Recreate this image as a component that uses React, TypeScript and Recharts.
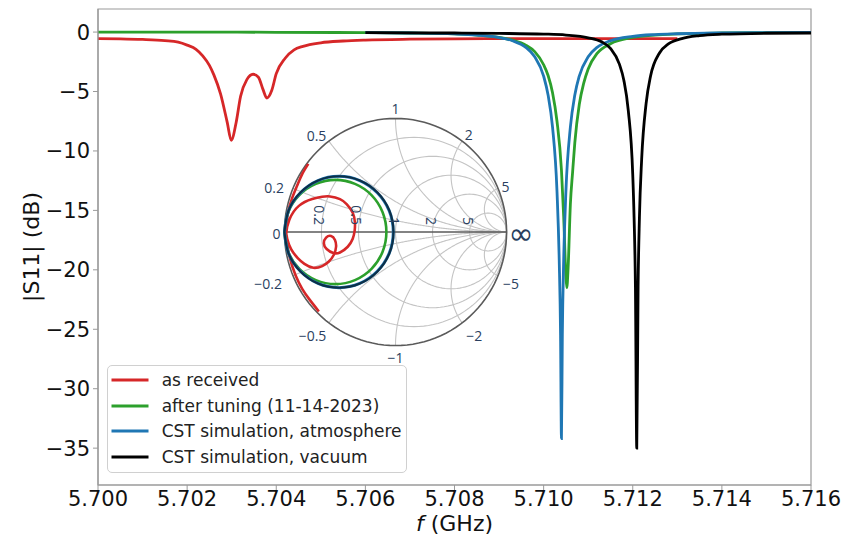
import React from 'react';
import {
  LineChart,
  Line,
  XAxis,
  YAxis,
  ReferenceArea,
  ReferenceDot,
  ReferenceLine,
  Legend,
  Label,
} from 'recharts';

// ---------------- main |S11| chart data ----------------
const xTicks = [5.7, 5.702, 5.704, 5.706, 5.708, 5.71, 5.712, 5.714, 5.716];
const yTicks = [0, -5, -10, -15, -20, -25, -30, -35];

const redFreq = [5.7, 5.7005, 5.701, 5.7015, 5.7018, 5.702, 5.7022, 5.70235, 5.7025, 5.7026, 5.70275, 5.7029, 5.70299, 5.7031, 5.7032, 5.70334, 5.70348, 5.7036, 5.7037, 5.70379, 5.7039, 5.704, 5.7042, 5.7044, 5.7046, 5.705, 5.7055, 5.706, 5.707, 5.708, 5.71, 5.713];
const redDb = [-0.55, -0.57, -0.62, -0.72, -0.85, -1.1, -1.45, -2.0, -2.8, -3.6, -5.2, -7.6, -9.1, -7.6, -5.4, -4.0, -3.55, -3.8, -4.8, -5.55, -4.9, -3.5, -2.2, -1.5, -1.2, -0.9, -0.75, -0.67, -0.6, -0.57, -0.55, -0.55];

const greenFreq = [5.7, 5.702, 5.704, 5.706, 5.707, 5.708, 5.7085, 5.709, 5.7093, 5.7096, 5.7098, 5.71, 5.7101, 5.7102, 5.7103, 5.7104, 5.71045, 5.7105, 5.71052, 5.71055, 5.7106, 5.71065, 5.7107, 5.7108, 5.7109, 5.711, 5.7112, 5.7115, 5.712, 5.7125, 5.713, 5.714, 5.715, 5.716];
const greenDb = [0.0, 0.0, -0.02, -0.05, -0.08, -0.15, -0.25, -0.44, -0.68, -1.1, -1.65, -2.75, -3.65, -5.1, -7.5, -11.6, -15.5, -20.5, -21.5, -19.8, -14.5, -11.8, -9.3, -6.1, -4.3, -3.1, -1.8, -0.98, -0.45, -0.25, -0.16, -0.08, -0.05, -0.02];

const blueFreq = [5.706, 5.707, 5.708, 5.7085, 5.709, 5.7093, 5.7096, 5.7098, 5.71, 5.7101, 5.7102, 5.7103, 5.71035, 5.71038, 5.7104, 5.71042, 5.71045, 5.7105, 5.7106, 5.7107, 5.7108, 5.711, 5.7112, 5.7115, 5.712, 5.7125, 5.713, 5.714, 5.715, 5.716];
const blueDb = [-0.05, -0.08, -0.16, -0.26, -0.46, -0.73, -1.29, -2.08, -3.7, -5.3, -8.0, -13.4, -19.2, -25.5, -34.2, -25.5, -19.2, -13.4, -8.0, -5.3, -3.7, -2.08, -1.29, -0.73, -0.36, -0.21, -0.14, -0.07, -0.04, -0.02];

const blackFreq = [5.706, 5.707, 5.708, 5.709, 5.71, 5.7105, 5.711, 5.7113, 5.7115, 5.7117, 5.7118, 5.7119, 5.712, 5.71203, 5.71206, 5.71209, 5.71212, 5.71215, 5.7122, 5.7123, 5.7124, 5.7126, 5.7128, 5.7131, 5.7135, 5.714, 5.715, 5.716];
const blackDb = [-0.05, -0.06, -0.08, -0.11, -0.17, -0.25, -0.48, -0.82, -1.37, -2.7, -4.05, -6.6, -12.0, -15.6, -21.4, -35.0, -21.4, -15.6, -10.7, -6.0, -3.7, -1.76, -1.0, -0.55, -0.3, -0.18, -0.1, -0.08];

const seriesNames = ['as received', 'after tuning (11-14-2023)', 'CST simulation, atmosphere', 'CST simulation, vacuum'];

// ---------------- Smith chart (reflection coefficient) data ----------------
const redSmithRe = [-0.69, -0.77, -0.84, -0.9, -0.945, -0.975, -0.985, -0.955, -0.87, -0.75, -0.66, -0.59, -0.5, -0.44, -0.385, -0.365, -0.368, -0.385, -0.43, -0.5, -0.56, -0.62, -0.645, -0.625, -0.58, -0.545, -0.535, -0.555, -0.6, -0.66, -0.74, -0.82, -0.88, -0.94, -0.975, -0.985, -0.97, -0.93, -0.885, -0.84, -0.785];
const redSmithIm = [-0.7, -0.6, -0.5, -0.38, -0.25, -0.12, -0.02, 0.11, 0.23, 0.29, 0.31, 0.313, 0.29, 0.245, 0.17, 0.08, 0.01, -0.06, -0.13, -0.18, -0.185, -0.15, -0.1, -0.05, -0.035, -0.07, -0.13, -0.2, -0.26, -0.3, -0.315, -0.28, -0.23, -0.15, -0.06, 0.03, 0.16, 0.3, 0.41, 0.51, 0.6];

const greenSmithRe = [-1.0, -0.965, -0.866, -0.717, -0.541, -0.365, -0.216, -0.117, -0.082, -0.117, -0.216, -0.365, -0.541, -0.717, -0.866, -0.965, -1.0];
const greenSmithIm = [0, 0.176, 0.325, 0.424, 0.459, 0.424, 0.325, 0.176, 0, -0.176, -0.325, -0.424, -0.459, -0.424, -0.325, -0.176, 0];

const blueSmithRe = [-1.0, -0.963, -0.856, -0.698, -0.51, -0.322, -0.164, -0.057, -0.02, -0.057, -0.164, -0.322, -0.51, -0.698, -0.856, -0.963, -1.0];
const blueSmithIm = [0, 0.188, 0.346, 0.453, 0.49, 0.453, 0.346, 0.188, 0, -0.188, -0.346, -0.453, -0.49, -0.453, -0.346, -0.188, 0];

const blackSmithRe = [-1.0, -0.963, -0.856, -0.697, -0.509, -0.321, -0.162, -0.055, -0.018, -0.055, -0.162, -0.321, -0.509, -0.697, -0.856, -0.963, -1.0];
const blackSmithIm = [0, 0.188, 0.347, 0.454, 0.491, 0.454, 0.347, 0.188, 0, -0.188, -0.347, -0.454, -0.491, -0.454, -0.347, -0.188, 0];

// Smith grid tick values
const smithResistance = [0.2, 0.5, 1, 2, 5];
const smithReactance = [0.2, 0.5, 1, 2, 5];
const smithImagLabels = ['0.2', '0.5', '1', '2', '5', '\u22120.2', '\u22120.5', '\u22121', '\u22122', '\u22125'];

// ---------------- styles ----------------
const RED = '#d62728';
const GREEN = '#2ca02c';
const BLUE = '#1f77b4';
const BLACK = '#000000';
const SPINE = '#9a9a9a';
const PLOTLY_TEXT = '#2a3f5f';
const seriesColors = [RED, GREEN, BLUE, BLACK];

const toRows = (fs: number[], ds: number[]) => fs.map((f, i) => ({ f, db: ds[i] }));
const toPts = (re: number[], im: number[]) => re.map((x, i) => ({ x, y: im[i] }));

const redRows = toRows(redFreq, redDb);
const greenRows = toRows(greenFreq, greenDb);
const blueRows = toRows(blueFreq, blueDb);
const blackRows = toRows(blackFreq, blackDb);

// Smith grid geometry (constant-resistance circles and constant-reactance arcs)
const zToGamma = (r: number, x: number) => {
  const d = (r + 1) * (r + 1) + x * x;
  return { x: (r * r + x * x - 1) / d, y: (2 * x) / d };
};
const resistanceCircle = (r: number) => {
  const c = r / (1 + r);
  const rad = 1 / (1 + r);
  const pts: { x: number; y: number }[] = [];
  for (let t = 0; t <= 360; t += 3) {
    const a = (t * Math.PI) / 180;
    pts.push({ x: c + rad * Math.cos(a), y: rad * Math.sin(a) });
  }
  return pts;
};
const reactanceArc = (x: number) => {
  const pts: { x: number; y: number }[] = [];
  for (let t = 0; t <= 89.5; t += 0.5) {
    pts.push(zToGamma(Math.tan((t * Math.PI) / 180), x));
  }
  pts.push({ x: 1, y: 0 });
  return pts;
};
const gridLines = [
  ...smithResistance.map(resistanceCircle),
  ...smithReactance.map((x) => reactanceArc(x)),
  ...smithReactance.map((x) => reactanceArc(-x)),
];
const outerCircle = resistanceCircle(0);

// label offsets (style): anchor, dx, dy relative to the boundary point
const imagLabelStyle: Record<string, { anchor: 'start' | 'middle' | 'end'; dx: number; dy: number }> = {
  '0.2': { anchor: 'end', dx: -9, dy: -1 },
  '0.5': { anchor: 'end', dx: -2.5, dy: -5.5 },
  '1': { anchor: 'middle', dx: 0, dy: -10 },
  '2': { anchor: 'start', dx: 2.5, dy: -7 },
  '5': { anchor: 'start', dx: 3.5, dy: -2 },
  '\u22120.2': { anchor: 'end', dx: -11, dy: 8 },
  '\u22120.5': { anchor: 'end', dx: -2.5, dy: 13 },
  '\u22121': { anchor: 'middle', dx: 0, dy: 11.5 },
  '\u22122': { anchor: 'start', dx: 4, dy: 12.5 },
  '\u22125': { anchor: 'start', dx: 5, dy: 8 },
};

const fmtY = (v: number) => (v === 0 ? '0' : v < 0 ? '\u2212' + Math.abs(v) : String(v));

const XTitle = () => (
  <text x={454.5} y={530.5} textAnchor="middle" fontSize={22} fill="#111" fontFamily="DejaVu Sans">
    <tspan fontStyle="italic">f</tspan>
    <tspan> (GHz)</tspan>
  </text>
);
const YTitle = () => (
  <text
    x={31}
    y={247}
    transform="rotate(-90 31 247)"
    textAnchor="middle"
    dominantBaseline="central"
    fontSize={22}
    fill="#111"
    fontFamily="DejaVu Sans"
  >
    |S11| (dB)
  </text>
);

const LegendBox = () => (
  <div
    style={{
      position: 'relative',
      width: 300,
      height: 108,
      boxSizing: 'border-box',
      border: '1px solid #d0d0d0',
      borderRadius: 5,
      background: 'rgba(255,255,255,0.85)',
      fontFamily: 'DejaVu Sans',
      fontSize: 17,
      color: '#222',
    }}
  >
    {seriesNames.map((name, i) => (
      <div
        key={name}
        style={{
          position: 'absolute',
          left: 0,
          top: 14 + i * 25.7 - 12,
          height: 24,
          display: 'flex',
          alignItems: 'center',
          whiteSpace: 'nowrap',
        }}
      >
        <svg width={54} height={24} style={{ display: 'block' }}>
          <line x1={3.5} x2={40.5} y1={12} y2={12} stroke={seriesColors[i]} strokeWidth={3} />
        </svg>
        <span>{name}</span>
      </div>
    ))}
  </div>
);

const SmithInset = () => {
  const textStyle = { fontFamily: 'Open Sans', fontSize: 14, fill: PLOTLY_TEXT } as const;
  return (
    <LineChart width={311} height={318} margin={{ top: 0, right: 0, bottom: 0, left: 0 }}>
      <XAxis type="number" dataKey="x" domain={[-1.4, 1.4]} hide allowDataOverflow />
      <YAxis type="number" domain={[-1.4, 1.4]} hide allowDataOverflow />
      {gridLines.map((g, i) => (
        <Line
          key={'g' + i}
          data={g}
          dataKey="y"
          type="linear"
          stroke="#c4c4c4"
          strokeWidth={1.1}
          dot={false}
          activeDot={false}
          isAnimationActive={false}
        />
      ))}
      <Line data={outerCircle} dataKey="y" type="linear" stroke="#5a5a5a" strokeWidth={1.6} dot={false} activeDot={false} isAnimationActive={false} />
      <ReferenceLine segment={[{ x: -1, y: 0 }, { x: 1, y: 0 }]} stroke="#5a5a5a" strokeWidth={1.6} />
      <Line data={toPts(redSmithRe, redSmithIm)} dataKey="y" type="natural" stroke={RED} strokeWidth={2.6} dot={false} activeDot={false} isAnimationActive={false} />
      <Line data={toPts(greenSmithRe, greenSmithIm)} dataKey="y" type="natural" stroke={GREEN} strokeWidth={2.6} dot={false} activeDot={false} isAnimationActive={false} />
      <Line data={toPts(blueSmithRe, blueSmithIm)} dataKey="y" type="natural" stroke={BLUE} strokeWidth={3} dot={false} activeDot={false} isAnimationActive={false} />
      <Line data={toPts(blackSmithRe, blackSmithIm)} dataKey="y" type="natural" stroke={BLACK} strokeOpacity={0.6} strokeWidth={2.2} dot={false} activeDot={false} isAnimationActive={false} />
      {smithResistance.map((r) => (
        <ReferenceDot
          key={'rl' + r}
          x={(r - 1) / (r + 1)}
          y={0}
          r={0}
          shape={(p: any) => (
            <text
              x={p.cx - 1.5}
              y={p.cy - 7}
              transform={`rotate(90 ${p.cx - 1.5} ${p.cy - 7})`}
              textAnchor="end"
              dominantBaseline="central"
              {...textStyle}
            >
              {String(r)}
            </text>
          )}
        />
      ))}
      {smithImagLabels.map((lab, i) => {
        const xv = (i < 5 ? 1 : -1) * smithReactance[i % 5];
        const g = zToGamma(0, xv);
        const st = imagLabelStyle[lab];
        return (
          <ReferenceDot
            key={'il' + lab}
            x={g.x}
            y={g.y}
            r={0}
            shape={(p: any) => (
              <text x={p.cx + st.dx} y={p.cy + st.dy} textAnchor={st.anchor} dominantBaseline="central" {...textStyle}>
                {lab}
              </text>
            )}
          />
        );
      })}
      <ReferenceDot
        x={-1}
        y={0}
        r={0}
        shape={(p: any) => (
          <text x={p.cx - 4} y={p.cy + 1} textAnchor="end" dominantBaseline="central" {...textStyle}>
            0
          </text>
        )}
      />
      <ReferenceDot
        x={1}
        y={0}
        r={0}
        shape={(p: any) => (
          <text x={p.cx + 2} y={p.cy + 1.5} textAnchor="start" dominantBaseline="central" fontFamily="DejaVu Sans" fontSize={30} fill={PLOTLY_TEXT}>
            {'\u221E'}
          </text>
        )}
      />
    </LineChart>
  );
};

export default function App() {
  return (
    <div style={{ position: 'absolute', left: 0, top: 0, width: 844, height: 536, background: '#fff' }}>
      <LineChart
        width={844}
        height={536}
        margin={{ top: 9, right: 33, bottom: 0, left: 0 }}
        style={{ fontFamily: 'DejaVu Sans' }}
      >
        <XAxis
          type="number"
          dataKey="f"
          domain={[5.7, 5.716]}
          ticks={xTicks}
          interval={0}
          tickFormatter={(v: number) => v.toFixed(3)}
          allowDataOverflow
          height={51}
          tick={{ fontSize: 21, fill: '#111' }}
          tickSize={5}
          tickMargin={1}
          tickLine={{ stroke: SPINE }}
          axisLine={{ stroke: SPINE, strokeWidth: 1.2 }}
        >
          <Label content={XTitle} />
        </XAxis>
        <YAxis
          type="number"
          domain={[-38.1, 1.94]}
          ticks={yTicks}
          interval={0}
          tickFormatter={fmtY}
          allowDataOverflow
          width={98}
          tick={{ fontSize: 21, fill: '#111' }}
          tickSize={5}
          tickMargin={3}
          tickLine={{ stroke: SPINE }}
          axisLine={{ stroke: SPINE, strokeWidth: 1.2 }}
        >
          <Label content={YTitle} />
        </YAxis>
        <ReferenceArea x1={5.7} x2={5.716} y1={-38.1} y2={1.94} fill="none" stroke={SPINE} strokeWidth={1.2} ifOverflow="visible" />
        <Line data={redRows} dataKey="db" name={seriesNames[0]} type="monotone" stroke={RED} strokeWidth={2.8} dot={false} activeDot={false} isAnimationActive={false} />
        <Line data={greenRows} dataKey="db" name={seriesNames[1]} type="monotone" stroke={GREEN} strokeWidth={2.8} dot={false} activeDot={false} isAnimationActive={false} />
        <Line data={blueRows} dataKey="db" name={seriesNames[2]} type="monotone" stroke={BLUE} strokeWidth={2.8} dot={false} activeDot={false} isAnimationActive={false} />
        <Line data={blackRows} dataKey="db" name={seriesNames[3]} type="monotone" stroke={BLACK} strokeWidth={2.8} dot={false} activeDot={false} isAnimationActive={false} />
        <Legend
          content={() => <LegendBox />}
          layout="vertical"
          align="center"
          verticalAlign="middle"
          wrapperStyle={{ left: 106.7, top: 365, width: 300, height: 108 }}
        />
      </LineChart>
      <div style={{ position: 'absolute', left: 240.2, top: 72.6 }}>
        <SmithInset />
      </div>
    </div>
  );
}
